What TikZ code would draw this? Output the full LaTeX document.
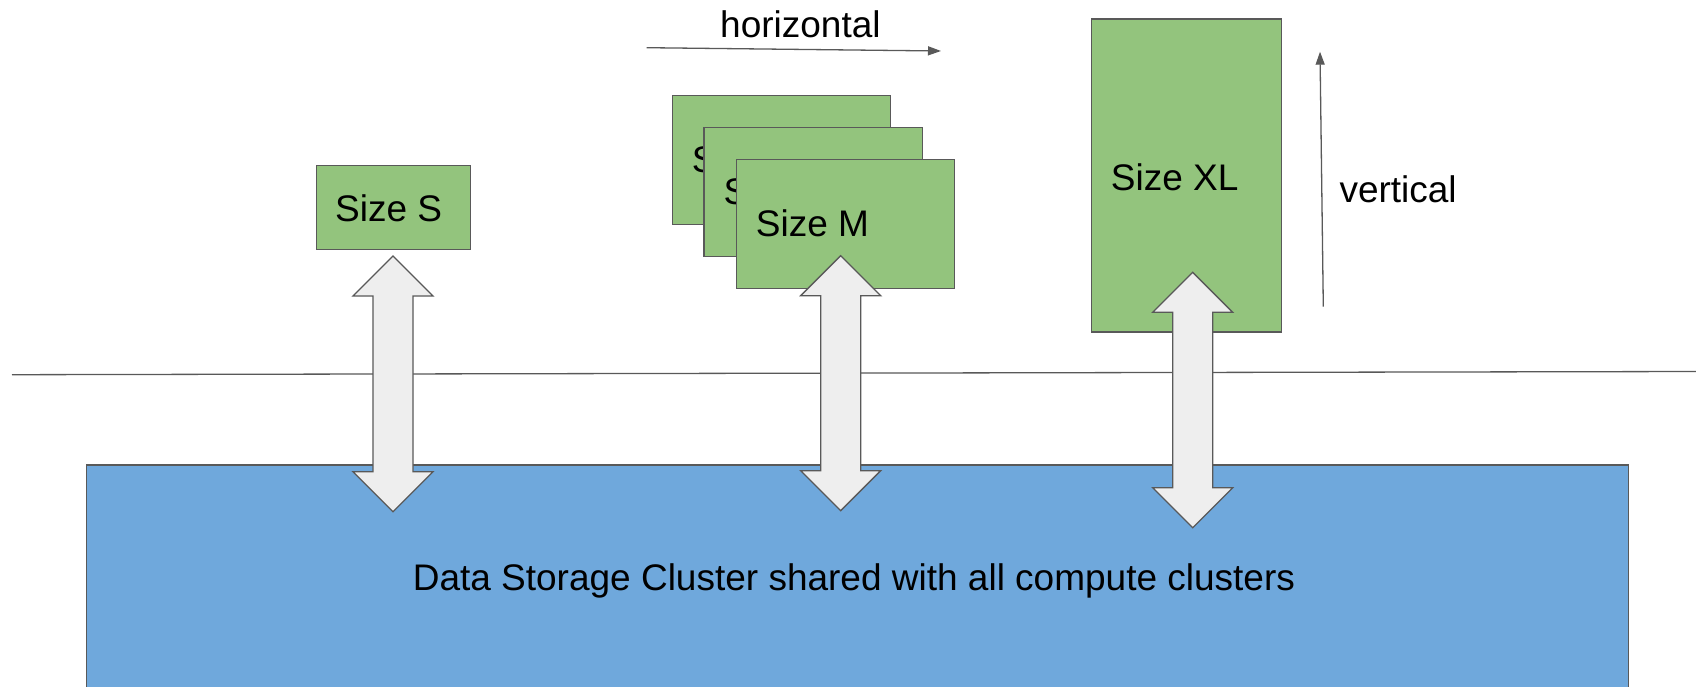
\documentclass[tikz,border=0pt]{standalone}
\usepackage{fontspec}
\setmainfont{Liberation Sans}
\usetikzlibrary{arrows.meta}
\definecolor{boxgreen}{HTML}{93C47D}
\definecolor{storeblue}{HTML}{6FA8DC}
\definecolor{arrowfill}{HTML}{EEEEEE}
\definecolor{edgegray}{HTML}{595959}
\tikzset{
  greenbox/.style={draw=edgegray, fill=boxgreen, line width=1.3pt, rectangle, inner sep=0pt, anchor=north west},
  storebox/.style={draw=edgegray, fill=storeblue, line width=1.3pt, rectangle, inner sep=0pt, anchor=north west},
  lbl/.style={anchor=base west, inner sep=0pt, font=\fontsize{37}{44}\selectfont},
  blockarrow/.style={draw=edgegray, fill=arrowfill, line width=1.3pt, line join=miter},
  guide/.style={draw=edgegray, line width=1.3pt, -{Triangle[length=13pt,width=9pt]}},
  divider/.style={draw=edgegray, line width=1.3pt},
}
\newcommand\dblblockarrow[3]{%
  \draw[blockarrow] ({#1},{#2}) -- ({#1+40},{#2+40}) -- ({#1+20},{#2+40}) -- ({#1+20},{#3-40}) -- ({#1+40},{#3-40}) -- ({#1},{#3}) -- ({#1-40},{#3-40}) -- ({#1-20},{#3-40}) -- ({#1-20},{#2+40}) -- ({#1-40},{#2+40}) -- cycle;}
\begin{document}
\begin{tikzpicture}[x=1pt,y=-1pt]
  \useasboundingbox (0,0) rectangle (1696,687);
  \clip (0,0) rectangle (1696,687);
  \fill[white] (0,0) rectangle (1696,687);
  % divider line
  \coordinate (divL) at (12,374.7);
  \coordinate (divR) at (1700,371.5);
  \draw[divider] (divL) -- (divR);
  % storage
  \node[storebox, minimum width=1541.7pt, minimum height=260pt] (store) at (86,464.3) {};
  \node[lbl] (storetxt) at (412.6,590.7) {Data Storage Cluster shared with all compute clusters};
  % size S
  \node[greenbox, minimum width=154pt, minimum height=84pt] (boxS) at (316,165) {};
  \node[lbl] (txtS) at (335,221) {Size S};
  % size M stack
  \node[greenbox, minimum width=218.3pt, minimum height=129pt] (boxMa) at (671.7,95) {};
  \node[lbl] (txtMa) at (691.7,172.7) {Size M};
  \node[greenbox, minimum width=218.3pt, minimum height=129pt] (boxMb) at (703.3,126.7) {};
  \node[lbl] (txtMb) at (723.3,204.5) {Size M};
  \node[greenbox, minimum width=218.3pt, minimum height=129pt] (boxMc) at (735.7,159) {};
  \node[lbl] (txtMc) at (755.7,236.7) {Size M};
  % size XL
  \node[greenbox, minimum width=190pt, minimum height=313pt] (boxXL) at (1091,18.3) {};
  \node[lbl] (txtXL) at (1110.7,190) {Size XL};
  % guides
  \coordinate (hstart) at (646.7,47.7);
  \coordinate (hend) at (941,51);
  \draw[guide] (hstart) -- (hend);
  \node[lbl] (txth) at (720,37.3) {horizontal};
  \coordinate (vstart) at (1323.3,306.7);
  \coordinate (vend) at (1320,51.7);
  \draw[guide] (vstart) -- (vend);
  \node[lbl] (txtv) at (1339.3,202.3) {vertical};
  % block arrows
  \dblblockarrow{393}{256}{511.7}
  \dblblockarrow{840.7}{255.7}{510.7}
  \dblblockarrow{1192.7}{272.3}{527.7}
\end{tikzpicture}
\end{document}
